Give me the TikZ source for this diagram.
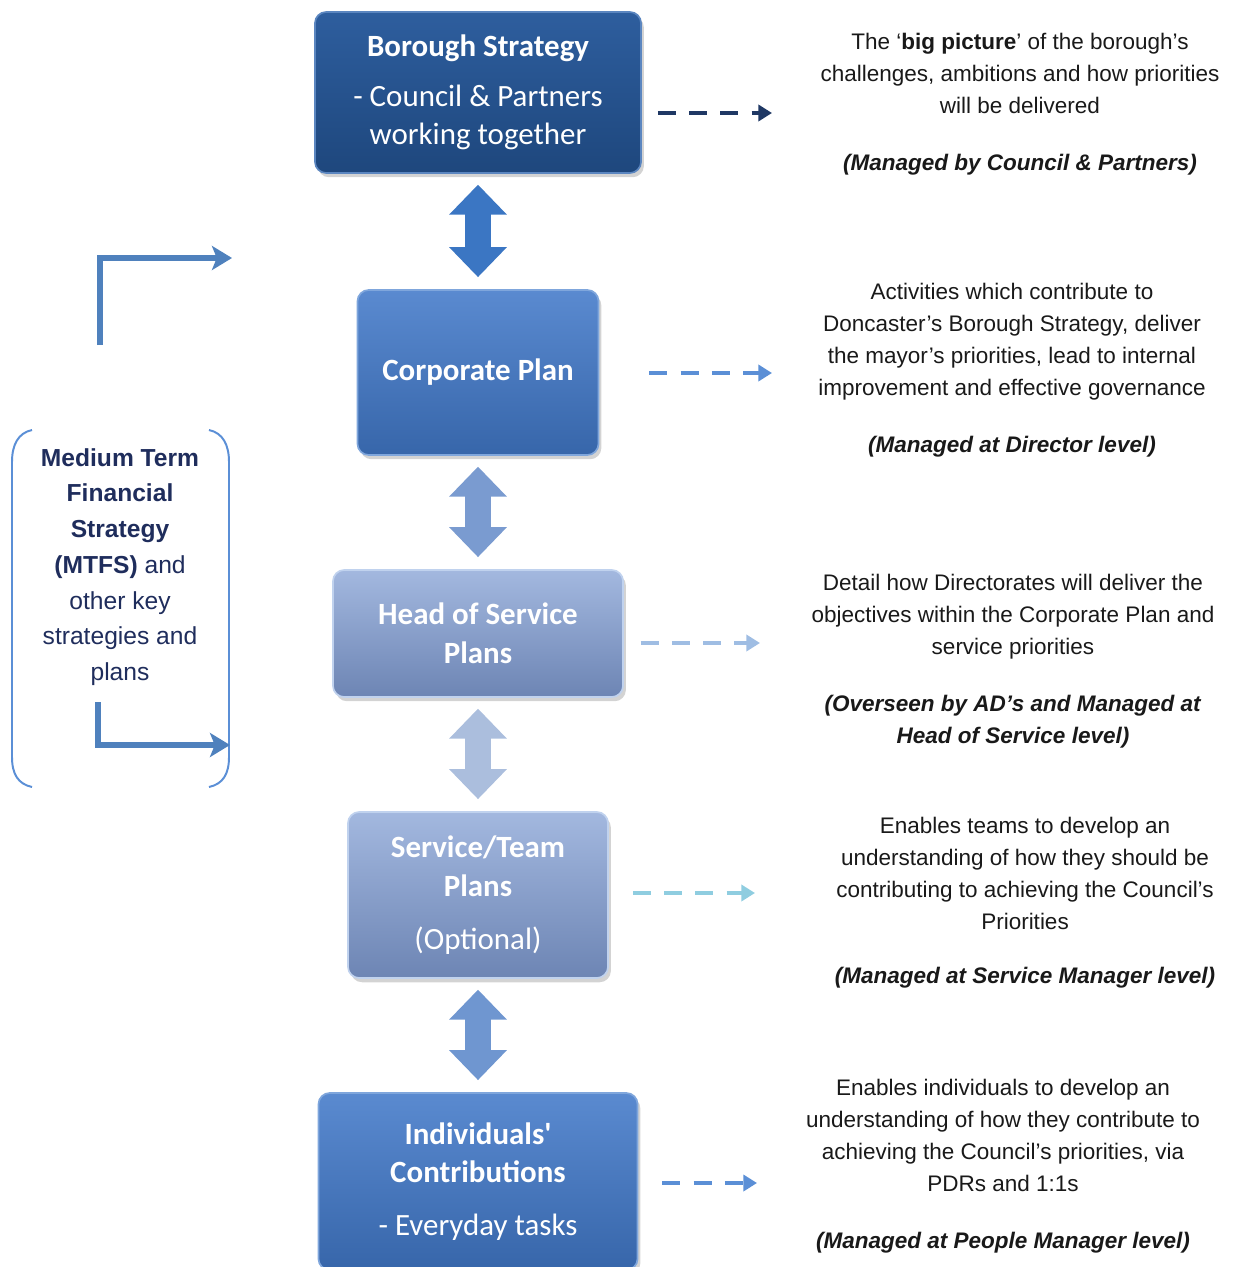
\documentclass[tikz,border=0pt]{standalone}
\usepackage{fontspec}
\setmainfont{Liberation Sans}
\newfontfamily\calib{Carlito}
\usepackage{tikz}
\usetikzlibrary{arrows.meta,shadows}
\definecolor{bstop}{HTML}{2E5E9E}
\definecolor{bsbot}{HTML}{1E477D}
\definecolor{bsline}{HTML}{5B86C0}
\definecolor{cptop}{HTML}{5A8AD0}
\definecolor{cpbot}{HTML}{3766AA}
\definecolor{cpline}{HTML}{7FA6DC}
\definecolor{hstop}{HTML}{A3B8DF}
\definecolor{hsbot}{HTML}{6D85B4}
\definecolor{hsline}{HTML}{C0D2EE}
\definecolor{navy}{HTML}{1F3864}
\definecolor{midblue}{HTML}{5B8FD6}
\definecolor{paleblue}{HTML}{9FBDE3}
\definecolor{teal}{HTML}{8FCDE0}
\definecolor{elbow}{HTML}{4F81BD}
\definecolor{mtfs}{HTML}{1F2D5C}

\begin{document}
\begin{tikzpicture}[x=0.025cm,y=-0.025cm]
\useasboundingbox (0,0) rectangle (1232,1267);

\begin{scope}[every node/.style={rectangle,rounded corners=8pt,line width=1.2pt,
        text=white,align=center,font=\calib\fontsize{22}{27.5}\selectfont,
        drop shadow={opacity=.35,shadow xshift=2pt,shadow yshift=-3pt}}]
    \node[top color=bstop,bottom color=bsbot,draw=bsline,
          minimum width=8.15cm,minimum height=4.025cm] (BS) at (478,92.5)
          {\textbf{Borough Strategy}\\[8pt] - Council \& Partners\\ working together};
    \node[top color=cptop,bottom color=cpbot,draw=cpline,
          minimum width=6.025cm,minimum height=4.125cm] (CP) at (478,372.5)
          {\textbf{Corporate Plan}};
    \node[top color=hstop,bottom color=hsbot,draw=hsline,
          minimum width=7.25cm,minimum height=3.175cm] (HS) at (478,633.5)
          {\textbf{Head of Service}\\ \textbf{Plans}};
    \node[top color=hstop,bottom color=hsbot,draw=hsline,
          minimum width=6.5cm,minimum height=4.15cm] (ST) at (478,895)
          {\textbf{Service/Team}\\ \textbf{Plans}\\[10pt] (Optional)};
    \node[top color=cptop,bottom color=cpbot,draw=cpline,
          minimum width=7.975cm,minimum height=4.425cm] (IC) at (478,1181.5)
          {\textbf{Individuals'}\\ \textbf{Contributions}\\[10pt] - Everyday tasks};
\end{scope}

\begin{scope}[every node/.style={align=center,text=black!90,
        font=\fontsize{16}{22.7}\selectfont}]
    \node (BSnote) at (1020,104)
          {The ‘\textbf{big picture}’ of the borough’s\\
           challenges, ambitions and how priorities\\
           will be delivered\\[18pt]
           \textbf{\textit{(Managed by Council \& Partners)}}};
    \node (CPnote) at (1012,370)
          {Activities which contribute to\\
           Doncaster’s Borough Strategy, deliver\\
           the mayor’s priorities, lead to internal\\
           improvement and effective governance\\[18pt]
           \textbf{\textit{(Managed at Director level)}}};
    \node (HSnote) at (1013,661)
          {Detail how Directorates will deliver the\\
           objectives within the Corporate Plan and\\
           service priorities\\[18pt]
           \textbf{\textit{(Overseen by AD’s and Managed at}}\\
           \textbf{\textit{Head of Service level)}}};
    \node (STnote) at (1025,903)
          {Enables teams to develop an\\
           understanding of how they should be\\
           contributing to achieving the Council’s\\
           Priorities\\[16pt]
           \textbf{\textit{(Managed at Service Manager level)}}};
    \node (ICnote) at (1003,1166)
          {Enables individuals to develop an\\
           understanding of how they contribute to\\
           achieving the Council’s priorities, via\\
           PDRs and 1:1s\\[18pt]
           \textbf{\textit{(Managed at People Manager level)}}};
    \node[text=mtfs,font=\fontsize{17.5}{25.4}\selectfont] (MTFS) at (120,567)
          {\textbf{Medium Term}\\ \textbf{Financial}\\ \textbf{Strategy}\\
           \textbf{(MTFS)} and\\ other key\\ strategies and\\ plans};
\end{scope}

% bracket round the MTFS text
\draw[midblue,line width=1.4pt]
    (32,430) .. controls (18,433) and (12,445) .. (12,462) -- (12,757)
    .. controls (12,774) and (18,784) .. (32,787);
\draw[midblue,line width=1.4pt]
    (209,430) .. controls (223,433) and (229,445) .. (229,462) -- (229,757)
    .. controls (229,774) and (223,784) .. (209,787);

\coordinate (up1) at (100,345);
\coordinate (up2) at (232,258);
\coordinate (dn1) at (98,702);
\coordinate (dn2) at (230,745);
\coordinate (d1) at (772,113);
\coordinate (d2) at (772,373);
\coordinate (d3) at (760,643);
\coordinate (d4) at (755,893);
\coordinate (d5) at (757,1183);

\begin{scope}[every edge/.style={draw,line width=0.65cm,
        {Triangle[width=1.4cm,length=0.75cm]}-{Triangle[width=1.4cm,length=0.75cm]},
        shorten <=0.27cm,shorten >=0.3cm}]
    \path (BS) edge[color={rgb,255:red,59;green,118;blue,195}] (CP);
    \path (CP) edge[color={rgb,255:red,122;green,155;blue,208}] (HS);
    \path (HS) edge[color={rgb,255:red,171;green,190;blue,221}] (ST);
    \path (ST) edge[color={rgb,255:red,111;green,150;blue,208}] (IC);
\end{scope}

\begin{scope}[every edge/.style={draw,line width=3.5pt,
        dash pattern=on 0.45cm off 0.33cm,
        -{Triangle[length=0.34cm,width=0.4cm]}}]
    \path (BS.east |- d1) edge[navy,shorten <=0.4cm] (d1);
    \path (CP.east |- d2) edge[midblue,shorten <=1.25cm] (d2);
    \path (HS.east |- d3) edge[paleblue,shorten <=0.42cm] (d3);
    \path (ST.east |- d4) edge[teal,shorten <=0.6cm] (d4);
    \path (IC.east |- d5) edge[midblue,shorten <=0.6cm] (d5);
\end{scope}

\begin{scope}[every path/.style={elbow,line width=4.25pt,
        -{Stealth[length=0.5cm,width=0.6cm,inset=0.12cm]}}]
    \draw (up1) |- (up2);
    \draw (dn1) |- (dn2);
\end{scope}
\end{tikzpicture}
\end{document}
